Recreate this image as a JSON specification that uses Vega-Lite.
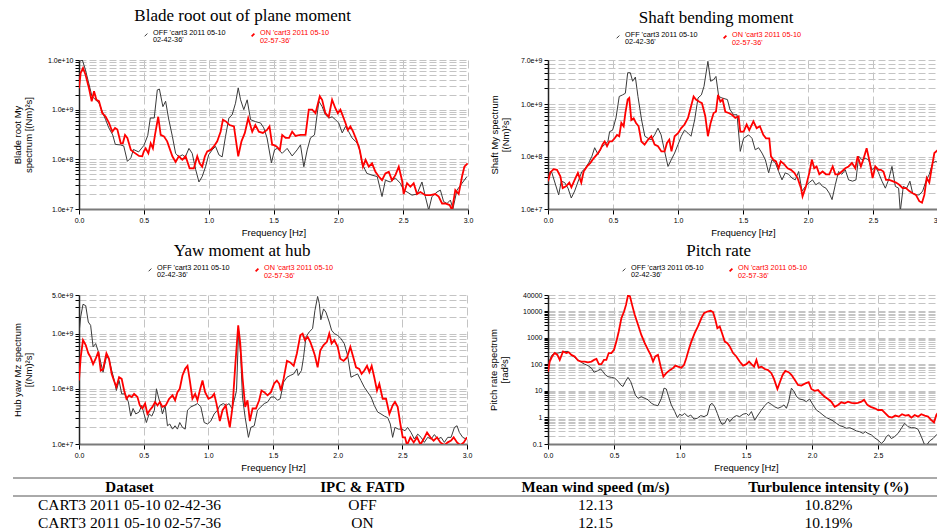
{
"$schema": "https://vega.github.io/schema/vega-lite/v6.json",
"background": "white",
"padding": {"left": 12, "top": 7, "right": 0, "bottom": 0},
"spacing": 5,
"columns": 1,
"align": "none",
"resolve": {"scale": {"color": "independent", "strokeWidth": "independent"}, "legend": {"color": "independent", "strokeWidth": "independent"}},
"config": {
  "view": {"stroke": null},
  "font": "Liberation Sans",
  "title": {"font": "Liberation Serif", "fontSize": 17, "fontWeight": "normal", "color": "#000000", "anchor": "middle", "frame": "bounds", "offset": 6},
  "axis": {"labelFont": "Liberation Sans", "labelFontSize": 7, "labelColor": "#000000", "titleFont": "Liberation Sans", "titleFontSize": 9.5, "titleFontWeight": "normal", "titleColor": "#000000", "tickColor": "#000000", "gridColor": "#c4c4c4", "labelFlush": false, "labelOverlap": false},
  "axisX": {"gridDash": [8, 4], "domainColor": "#7a7a7a", "domainWidth": 2, "tickSize": 5, "labelPadding": 2, "titlePadding": 4},
  "axisY": {"gridDash": [7, 3], "domainColor": "#222222", "domainWidth": 1.5, "tickSize": 4, "labelPadding": 2, "titleLineHeight": 11},
  "legend": {"orient": "none", "direction": "horizontal", "columns": 2, "columnPadding": 22, "title": null, "symbolType": "M-0.5,0.5L0.5,-0.5", "symbolSize": 30, "symbolStrokeWidth": 1, "labelFont": "Liberation Sans", "labelFontSize": 7.3, "labelBaseline": "alphabetic", "labelOffset": 3, "labelColor": {"expr": "datum.value === 'ON' ? '#ff0000' : '#000000'"}},
  "line": {"clip": true}
},
"concat": [
 {"hconcat": [
  {
   "width": 389, "height": 149,
   "title": {"text": "Blade root out of plane moment"},
   "data": {"values": [
{"s":"OFF","f":0,"v":9.3e9},{"s":"OFF","f":0.026,"v":1.0e10},{"s":"OFF","f":0.05,"v":6.3e9},{"s":"OFF","f":0.1,"v":1.86e9},{"s":"OFF","f":0.155,"v":1.35e9},{"s":"OFF","f":0.18,"v":9.1e8},{"s":"OFF","f":0.205,"v":6.3e8},{"s":"OFF","f":0.23,"v":4.3e8},{"s":"OFF","f":0.26,"v":3.1e8},{"s":"OFF","f":0.28,"v":2.0e8},{"s":"OFF","f":0.32,"v":1.95e8},{"s":"OFF","f":0.345,"v":1.86e8},{"s":"OFF","f":0.373,"v":9.1e7},{"s":"OFF","f":0.4,"v":1.07e8},{"s":"OFF","f":0.42,"v":1.58e8},{"s":"OFF","f":0.46,"v":1.41e8},{"s":"OFF","f":0.5,"v":1.9e8},{"s":"OFF","f":0.53,"v":3.0e8},{"s":"OFF","f":0.55,"v":6.8e8},{"s":"OFF","f":0.58,"v":6.8e8},{"s":"OFF","f":0.604,"v":2.5e9},{"s":"OFF","f":0.62,"v":2.6e9},{"s":"OFF","f":0.647,"v":1.15e9},{"s":"OFF","f":0.668,"v":1.48e9},{"s":"OFF","f":0.69,"v":6.8e8},{"s":"OFF","f":0.72,"v":2.9e8},{"s":"OFF","f":0.745,"v":1.32e8},{"s":"OFF","f":0.77,"v":1.12e8},{"s":"OFF","f":0.797,"v":1.23e8},{"s":"OFF","f":0.82,"v":1.12e8},{"s":"OFF","f":0.848,"v":1.66e8},{"s":"OFF","f":0.873,"v":1.32e8},{"s":"OFF","f":0.9,"v":6.2e7},{"s":"OFF","f":0.925,"v":3.5e7},{"s":"OFF","f":0.95,"v":4.5e7},{"s":"OFF","f":0.976,"v":7.1e7},{"s":"OFF","f":1.0,"v":1.23e8},{"s":"OFF","f":1.027,"v":1.55e8},{"s":"OFF","f":1.053,"v":1.82e8},{"s":"OFF","f":1.079,"v":1.23e8},{"s":"OFF","f":1.104,"v":1.12e8},{"s":"OFF","f":1.13,"v":2.9e8},{"s":"OFF","f":1.156,"v":6.8e8},{"s":"OFF","f":1.181,"v":7.9e8},{"s":"OFF","f":1.207,"v":1.35e9},{"s":"OFF","f":1.228,"v":2.75e9},{"s":"OFF","f":1.246,"v":1.58e9},{"s":"OFF","f":1.271,"v":1.0e9},{"s":"OFF","f":1.297,"v":1.58e9},{"s":"OFF","f":1.323,"v":6.3e8},{"s":"OFF","f":1.36,"v":5.75e8},{"s":"OFF","f":1.4,"v":5.4e8},{"s":"OFF","f":1.425,"v":4.3e8},{"s":"OFF","f":1.45,"v":2.7e8},{"s":"OFF","f":1.484,"v":8.5e7},{"s":"OFF","f":1.508,"v":1.55e8},{"s":"OFF","f":1.528,"v":1.66e8},{"s":"OFF","f":1.567,"v":1.32e8},{"s":"OFF","f":1.605,"v":1.66e8},{"s":"OFF","f":1.644,"v":1.17e8},{"s":"OFF","f":1.682,"v":1.55e8},{"s":"OFF","f":1.708,"v":1.95e8},{"s":"OFF","f":1.734,"v":7.1e7},{"s":"OFF","f":1.76,"v":1.55e8},{"s":"OFF","f":1.785,"v":2.7e8},{"s":"OFF","f":1.816,"v":3.1e8},{"s":"OFF","f":1.85,"v":1.48e9},{"s":"OFF","f":1.875,"v":1.15e9},{"s":"OFF","f":1.9,"v":7.9e8},{"s":"OFF","f":1.926,"v":6.8e8},{"s":"OFF","f":1.952,"v":7.2e8},{"s":"OFF","f":1.977,"v":6.3e8},{"s":"OFF","f":2.003,"v":5.4e8},{"s":"OFF","f":2.03,"v":3.4e8},{"s":"OFF","f":2.055,"v":4.6e8},{"s":"OFF","f":2.08,"v":3.6e8},{"s":"OFF","f":2.106,"v":2.7e8},{"s":"OFF","f":2.132,"v":2.3e8},{"s":"OFF","f":2.157,"v":1.95e8},{"s":"OFF","f":2.183,"v":8.3e7},{"s":"OFF","f":2.22,"v":5.2e7},{"s":"OFF","f":2.26,"v":4.8e7},{"s":"OFF","f":2.3,"v":4.5e7},{"s":"OFF","f":2.337,"v":1.78e7},{"s":"OFF","f":2.363,"v":3.8e7},{"s":"OFF","f":2.4,"v":3.5e7},{"s":"OFF","f":2.44,"v":4.2e7},{"s":"OFF","f":2.478,"v":3.3e7},{"s":"OFF","f":2.504,"v":2.4e7},{"s":"OFF","f":2.53,"v":2.2e7},{"s":"OFF","f":2.568,"v":1.9e7},{"s":"OFF","f":2.607,"v":2.0e7},{"s":"OFF","f":2.645,"v":3.5e7},{"s":"OFF","f":2.671,"v":1.78e7},{"s":"OFF","f":2.697,"v":9.5e6},{"s":"OFF","f":2.722,"v":1.78e7},{"s":"OFF","f":2.761,"v":2.2e7},{"s":"OFF","f":2.787,"v":2.4e7},{"s":"OFF","f":2.812,"v":1.41e7},{"s":"OFF","f":2.838,"v":1.29e7},{"s":"OFF","f":2.864,"v":1.51e7},{"s":"OFF","f":2.884,"v":1.02e7},{"s":"OFF","f":2.915,"v":2.4e7},{"s":"OFF","f":2.954,"v":3.3e7},{"s":"OFF","f":2.992,"v":4.5e7},
{"s":"ON","f":0,"v":2.7e9},{"s":"ON","f":0.013,"v":5.5e9},{"s":"ON","f":0.031,"v":6.9e9},{"s":"ON","f":0.051,"v":5.0e9},{"s":"ON","f":0.077,"v":2.7e9},{"s":"ON","f":0.098,"v":1.48e9},{"s":"ON","f":0.116,"v":2.35e9},{"s":"ON","f":0.134,"v":1.58e9},{"s":"ON","f":0.154,"v":1.48e9},{"s":"ON","f":0.18,"v":8.5e8},{"s":"ON","f":0.206,"v":7.2e8},{"s":"ON","f":0.231,"v":5.4e8},{"s":"ON","f":0.257,"v":3.6e8},{"s":"ON","f":0.278,"v":4.3e8},{"s":"ON","f":0.296,"v":4.0e8},{"s":"ON","f":0.322,"v":2.1e8},{"s":"ON","f":0.338,"v":2.1e8},{"s":"ON","f":0.355,"v":3.1e8},{"s":"ON","f":0.373,"v":2.7e8},{"s":"ON","f":0.4,"v":1.55e8},{"s":"ON","f":0.424,"v":1.38e8},{"s":"ON","f":0.463,"v":1.17e8},{"s":"ON","f":0.488,"v":1.15e8},{"s":"ON","f":0.5,"v":1.45e8},{"s":"ON","f":0.514,"v":1.66e8},{"s":"ON","f":0.535,"v":1.32e8},{"s":"ON","f":0.553,"v":2.1e8},{"s":"ON","f":0.57,"v":1.66e8},{"s":"ON","f":0.586,"v":3.1e8},{"s":"ON","f":0.611,"v":7.2e8},{"s":"ON","f":0.63,"v":3.1e8},{"s":"ON","f":0.655,"v":2.9e8},{"s":"ON","f":0.68,"v":2.3e8},{"s":"ON","f":0.72,"v":1.15e8},{"s":"ON","f":0.745,"v":8.9e7},{"s":"ON","f":0.77,"v":1.15e8},{"s":"ON","f":0.797,"v":9.8e7},{"s":"ON","f":0.822,"v":1.15e8},{"s":"ON","f":0.853,"v":6.6e7},{"s":"ON","f":0.886,"v":6.6e7},{"s":"ON","f":0.912,"v":1.15e8},{"s":"ON","f":0.93,"v":8.3e7},{"s":"ON","f":0.95,"v":7.1e7},{"s":"ON","f":0.971,"v":1.15e8},{"s":"ON","f":0.989,"v":1.45e8},{"s":"ON","f":1.015,"v":1.55e8},{"s":"ON","f":1.04,"v":1.82e8},{"s":"ON","f":1.066,"v":2.3e8},{"s":"ON","f":1.092,"v":3.6e8},{"s":"ON","f":1.11,"v":6.3e8},{"s":"ON","f":1.135,"v":5.75e8},{"s":"ON","f":1.161,"v":4.9e8},{"s":"ON","f":1.195,"v":4.6e8},{"s":"ON","f":1.228,"v":1.15e8},{"s":"ON","f":1.253,"v":2.3e8},{"s":"ON","f":1.279,"v":3.4e8},{"s":"ON","f":1.305,"v":6.8e8},{"s":"ON","f":1.336,"v":3.6e8},{"s":"ON","f":1.36,"v":4.9e8},{"s":"ON","f":1.387,"v":3.6e8},{"s":"ON","f":1.418,"v":3.4e8},{"s":"ON","f":1.45,"v":3.9e8},{"s":"ON","f":1.469,"v":4.6e8},{"s":"ON","f":1.49,"v":1.95e8},{"s":"ON","f":1.5,"v":1.95e8},{"s":"ON","f":1.523,"v":1.82e8},{"s":"ON","f":1.549,"v":1.55e8},{"s":"ON","f":1.567,"v":3.1e8},{"s":"ON","f":1.593,"v":2.7e8},{"s":"ON","f":1.62,"v":2.7e8},{"s":"ON","f":1.644,"v":3.6e8},{"s":"ON","f":1.67,"v":2.95e8},{"s":"ON","f":1.708,"v":3.1e8},{"s":"ON","f":1.747,"v":3.1e8},{"s":"ON","f":1.772,"v":1.0e9},{"s":"ON","f":1.798,"v":1.0e9},{"s":"ON","f":1.824,"v":8.5e8},{"s":"ON","f":1.857,"v":1.86e9},{"s":"ON","f":1.875,"v":1.58e9},{"s":"ON","f":1.9,"v":8.5e8},{"s":"ON","f":1.926,"v":7.2e8},{"s":"ON","f":1.952,"v":1.58e9},{"s":"ON","f":1.977,"v":1.07e9},{"s":"ON","f":1.996,"v":8.5e8},{"s":"ON","f":2.016,"v":1.0e9},{"s":"ON","f":2.037,"v":7.2e8},{"s":"ON","f":2.055,"v":5.4e8},{"s":"ON","f":2.073,"v":3.9e8},{"s":"ON","f":2.093,"v":4.6e8},{"s":"ON","f":2.114,"v":3.6e8},{"s":"ON","f":2.14,"v":2.45e8},{"s":"ON","f":2.165,"v":1.55e8},{"s":"ON","f":2.19,"v":7.1e7},{"s":"ON","f":2.21,"v":9.8e7},{"s":"ON","f":2.235,"v":7.1e7},{"s":"ON","f":2.26,"v":8.3e7},{"s":"ON","f":2.286,"v":5.6e7},{"s":"ON","f":2.312,"v":4.5e7},{"s":"ON","f":2.337,"v":3.8e7},{"s":"ON","f":2.363,"v":5.2e7},{"s":"ON","f":2.389,"v":5.6e7},{"s":"ON","f":2.414,"v":3.8e7},{"s":"ON","f":2.44,"v":4.8e7},{"s":"ON","f":2.466,"v":7.1e7},{"s":"ON","f":2.491,"v":3.8e7},{"s":"ON","f":2.504,"v":2.0e7},{"s":"ON","f":2.53,"v":3.3e7},{"s":"ON","f":2.556,"v":2.8e7},{"s":"ON","f":2.581,"v":3.3e7},{"s":"ON","f":2.607,"v":2.0e7},{"s":"ON","f":2.633,"v":2.2e7},{"s":"ON","f":2.671,"v":1.9e7},{"s":"ON","f":2.71,"v":1.9e7},{"s":"ON","f":2.748,"v":2.0e7},{"s":"ON","f":2.774,"v":1.78e7},{"s":"ON","f":2.8,"v":1.29e7},{"s":"ON","f":2.825,"v":1.29e7},{"s":"ON","f":2.859,"v":1.2e7},{"s":"ON","f":2.877,"v":9.5e6},{"s":"ON","f":2.902,"v":2.4e7},{"s":"ON","f":2.928,"v":2.0e7},{"s":"ON","f":2.954,"v":4.5e7},{"s":"ON","f":2.972,"v":7.1e7},{"s":"ON","f":2.997,"v":8.3e7}
   ]},
   "mark": {"type": "line", "clip": true},
   "encoding": {
     "x": {"field": "f", "type": "quantitative", "scale": {"domain": [0, 3], "nice": false, "zero": false}, "axis": {"title": "Frequency [Hz]", "values": [0, 0.5, 1, 1.5, 2, 2.5, 3], "format": ".1f", "grid": true}},
     "y": {"field": "v", "type": "quantitative", "scale": {"type": "log", "domain": [1e7, 1e10], "nice": false}, "axis": {"title": ["Blade root My", "spectrum [(Nm)²s]"], "titlePadding": 14, "grid": true, "values": [1e7,2e7,3e7,4e7,5e7,6e7,7e7,8e7,9e7,1e8,2e8,3e8,4e8,5e8,6e8,7e8,8e8,9e8,1e9,2e9,3e9,4e9,5e9,6e9,7e9,8e9,9e9,1e10], "labelExpr": "indexof([1e7,1e8,1e9,1e10], datum.value) >= 0 ? format(datum.value, '.1e') : ''"}},
     "color": {"field": "s", "type": "nominal", "scale": {"domain": ["OFF", "ON"], "range": ["#3a3a3a", "#ff0000"]}, "legend": {"legendX": 63, "legendY": -29, "labelExpr": "datum.value == 'OFF' ? [\"OFF 'cart3 2011 05-10\", \"02-42-36'\"] : [\"ON 'cart3 2011 05-10\", \"02-57-36'\"]", "encode": {"labels": {"update": {"lineHeight": {"value": 7.5}}}}}},
     "strokeWidth": {"field": "s", "type": "nominal", "scale": {"domain": ["OFF", "ON"], "range": [1, 1.8]}, "legend": null}
   }
  },
  {
   "width": 390, "height": 149,
   "title": {"text": "Shaft bending moment"},
   "data": {"values": [
{"s":"OFF","f":0,"v":3.2e7},{"s":"OFF","f":0.018,"v":5.2e7},{"s":"OFF","f":0.03,"v":4.9e7},{"s":"OFF","f":0.082,"v":1.86e7},{"s":"OFF","f":0.102,"v":3.4e7},{"s":"OFF","f":0.128,"v":3.2e7},{"s":"OFF","f":0.154,"v":2.5e7},{"s":"OFF","f":0.179,"v":1.62e7},{"s":"OFF","f":0.205,"v":2.2e7},{"s":"OFF","f":0.236,"v":3.6e7},{"s":"OFF","f":0.261,"v":5.2e7},{"s":"OFF","f":0.287,"v":6.0e7},{"s":"OFF","f":0.313,"v":7.6e7},{"s":"OFF","f":0.338,"v":1.02e8},{"s":"OFF","f":0.359,"v":1.48e8},{"s":"OFF","f":0.385,"v":1.1e8},{"s":"OFF","f":0.41,"v":1.48e8},{"s":"OFF","f":0.436,"v":1.7e8},{"s":"OFF","f":0.461,"v":1.95e8},{"s":"OFF","f":0.474,"v":3.0e8},{"s":"OFF","f":0.497,"v":3.2e8},{"s":"OFF","f":0.523,"v":5.5e8},{"s":"OFF","f":0.548,"v":1.41e9},{"s":"OFF","f":0.574,"v":1.51e9},{"s":"OFF","f":0.595,"v":1.62e9},{"s":"OFF","f":0.613,"v":4.0e9},{"s":"OFF","f":0.633,"v":4.0e9},{"s":"OFF","f":0.651,"v":2.75e9},{"s":"OFF","f":0.672,"v":3.3e9},{"s":"OFF","f":0.692,"v":1.41e9},{"s":"OFF","f":0.72,"v":5.0e8},{"s":"OFF","f":0.745,"v":2.45e8},{"s":"OFF","f":0.77,"v":2.24e8},{"s":"OFF","f":0.795,"v":2.1e8},{"s":"OFF","f":0.82,"v":2.6e8},{"s":"OFF","f":0.846,"v":3.5e8},{"s":"OFF","f":0.87,"v":2.6e8},{"s":"OFF","f":0.897,"v":1.26e8},{"s":"OFF","f":0.923,"v":6.5e7},{"s":"OFF","f":0.948,"v":8.7e7},{"s":"OFF","f":0.974,"v":1.17e8},{"s":"OFF","f":1.0,"v":1.7e8},{"s":"OFF","f":1.025,"v":2.45e8},{"s":"OFF","f":1.05,"v":3.2e8},{"s":"OFF","f":1.077,"v":2.8e8},{"s":"OFF","f":1.1,"v":2.45e8},{"s":"OFF","f":1.128,"v":5.0e8},{"s":"OFF","f":1.154,"v":1.32e9},{"s":"OFF","f":1.18,"v":1.51e9},{"s":"OFF","f":1.2,"v":2.2e9},{"s":"OFF","f":1.23,"v":6.6e9},{"s":"OFF","f":1.251,"v":2.75e9},{"s":"OFF","f":1.274,"v":2.95e9},{"s":"OFF","f":1.292,"v":3.4e9},{"s":"OFF","f":1.313,"v":1.41e9},{"s":"OFF","f":1.338,"v":1.32e9},{"s":"OFF","f":1.38,"v":1.23e9},{"s":"OFF","f":1.4,"v":7.9e8},{"s":"OFF","f":1.428,"v":6.3e8},{"s":"OFF","f":1.454,"v":6.3e8},{"s":"OFF","f":1.479,"v":1.26e8},{"s":"OFF","f":1.505,"v":2.24e8},{"s":"OFF","f":1.543,"v":2.6e8},{"s":"OFF","f":1.569,"v":2.24e8},{"s":"OFF","f":1.594,"v":1.35e8},{"s":"OFF","f":1.62,"v":1.48e8},{"s":"OFF","f":1.646,"v":1.17e8},{"s":"OFF","f":1.672,"v":8.7e7},{"s":"OFF","f":1.697,"v":4.9e7},{"s":"OFF","f":1.723,"v":8.7e7},{"s":"OFF","f":1.749,"v":7.6e7},{"s":"OFF","f":1.774,"v":5.2e7},{"s":"OFF","f":1.8,"v":3.6e7},{"s":"OFF","f":1.825,"v":4.9e7},{"s":"OFF","f":1.851,"v":4.6e7},{"s":"OFF","f":1.877,"v":3.9e7},{"s":"OFF","f":1.902,"v":3.6e7},{"s":"OFF","f":1.928,"v":5.2e7},{"s":"OFF","f":1.954,"v":2.2e7},{"s":"OFF","f":1.98,"v":2.7e7},{"s":"OFF","f":2.01,"v":3.2e7},{"s":"OFF","f":2.035,"v":3.6e7},{"s":"OFF","f":2.06,"v":2.9e7},{"s":"OFF","f":2.087,"v":3.2e7},{"s":"OFF","f":2.112,"v":2.7e7},{"s":"OFF","f":2.138,"v":2.5e7},{"s":"OFF","f":2.164,"v":2.0e7},{"s":"OFF","f":2.185,"v":1.51e7},{"s":"OFF","f":2.21,"v":2.9e7},{"s":"OFF","f":2.235,"v":5.2e7},{"s":"OFF","f":2.26,"v":4.6e7},{"s":"OFF","f":2.287,"v":5.6e7},{"s":"OFF","f":2.312,"v":3.6e7},{"s":"OFF","f":2.343,"v":3.4e7},{"s":"OFF","f":2.369,"v":3.6e7},{"s":"OFF","f":2.39,"v":1.02e8},{"s":"OFF","f":2.415,"v":8.7e7},{"s":"OFF","f":2.44,"v":9.3e7},{"s":"OFF","f":2.466,"v":8.7e7},{"s":"OFF","f":2.492,"v":5.6e7},{"s":"OFF","f":2.518,"v":6.5e7},{"s":"OFF","f":2.543,"v":4.9e7},{"s":"OFF","f":2.569,"v":3.4e7},{"s":"OFF","f":2.595,"v":2.5e7},{"s":"OFF","f":2.62,"v":3.6e7},{"s":"OFF","f":2.646,"v":6.5e7},{"s":"OFF","f":2.672,"v":2.7e7},{"s":"OFF","f":2.697,"v":2.5e7},{"s":"OFF","f":2.71,"v":9.0e6},{"s":"OFF","f":2.733,"v":2.7e7},{"s":"OFF","f":2.759,"v":2.5e7},{"s":"OFF","f":2.784,"v":3.4e7},{"s":"OFF","f":2.805,"v":2.0e7},{"s":"OFF","f":2.83,"v":1.86e7},{"s":"OFF","f":2.856,"v":1.86e7},{"s":"OFF","f":2.882,"v":2.2e7},{"s":"OFF","f":2.907,"v":3.4e7},{"s":"OFF","f":2.933,"v":4.6e7},{"s":"OFF","f":2.959,"v":7.6e7},{"s":"OFF","f":2.984,"v":8.1e7},{"s":"OFF","f":3.0,"v":7.6e7},
{"s":"ON","f":0,"v":3.4e7},{"s":"ON","f":0.018,"v":5.0e7},{"s":"ON","f":0.043,"v":5.75e7},{"s":"ON","f":0.069,"v":5.6e7},{"s":"ON","f":0.095,"v":4.2e7},{"s":"ON","f":0.113,"v":2.5e7},{"s":"ON","f":0.138,"v":2.7e7},{"s":"ON","f":0.164,"v":3.2e7},{"s":"ON","f":0.18,"v":2.6e7},{"s":"ON","f":0.205,"v":3.6e7},{"s":"ON","f":0.23,"v":4.9e7},{"s":"ON","f":0.256,"v":3.2e7},{"s":"ON","f":0.274,"v":5.2e7},{"s":"ON","f":0.3,"v":6.5e7},{"s":"ON","f":0.326,"v":7.6e7},{"s":"ON","f":0.351,"v":9.3e7},{"s":"ON","f":0.377,"v":1.1e8},{"s":"ON","f":0.402,"v":1.35e8},{"s":"ON","f":0.42,"v":1.7e8},{"s":"ON","f":0.436,"v":1.95e8},{"s":"ON","f":0.454,"v":1.58e8},{"s":"ON","f":0.472,"v":1.95e8},{"s":"ON","f":0.492,"v":1.95e8},{"s":"ON","f":0.513,"v":2.24e8},{"s":"ON","f":0.531,"v":2.6e8},{"s":"ON","f":0.548,"v":2.45e8},{"s":"ON","f":0.564,"v":4.4e8},{"s":"ON","f":0.582,"v":3.8e8},{"s":"ON","f":0.595,"v":6.8e8},{"s":"ON","f":0.613,"v":1.23e9},{"s":"ON","f":0.625,"v":1.32e9},{"s":"ON","f":0.641,"v":5.0e8},{"s":"ON","f":0.659,"v":5.4e8},{"s":"ON","f":0.677,"v":4.4e8},{"s":"ON","f":0.697,"v":3.8e8},{"s":"ON","f":0.718,"v":1.95e8},{"s":"ON","f":0.743,"v":1.7e8},{"s":"ON","f":0.769,"v":2.1e8},{"s":"ON","f":0.795,"v":2.45e8},{"s":"ON","f":0.82,"v":1.7e8},{"s":"ON","f":0.846,"v":1.58e8},{"s":"ON","f":0.872,"v":1.26e8},{"s":"ON","f":0.897,"v":1.26e8},{"s":"ON","f":0.915,"v":1.82e8},{"s":"ON","f":0.933,"v":2.1e8},{"s":"ON","f":0.95,"v":1.26e8},{"s":"ON","f":0.974,"v":2.45e8},{"s":"ON","f":1.0,"v":2.8e8},{"s":"ON","f":1.025,"v":3.5e8},{"s":"ON","f":1.05,"v":4.1e8},{"s":"ON","f":1.077,"v":5.5e8},{"s":"ON","f":1.1,"v":9.1e8},{"s":"ON","f":1.12,"v":1.41e9},{"s":"ON","f":1.138,"v":1.23e9},{"s":"ON","f":1.164,"v":1.12e9},{"s":"ON","f":1.184,"v":1.05e9},{"s":"ON","f":1.21,"v":5.9e8},{"s":"ON","f":1.23,"v":2.45e8},{"s":"ON","f":1.251,"v":4.4e8},{"s":"ON","f":1.274,"v":6.8e8},{"s":"ON","f":1.292,"v":7.2e8},{"s":"ON","f":1.308,"v":1.51e9},{"s":"ON","f":1.326,"v":1.12e9},{"s":"ON","f":1.343,"v":1.23e9},{"s":"ON","f":1.364,"v":7.2e8},{"s":"ON","f":1.39,"v":6.8e8},{"s":"ON","f":1.415,"v":6.3e8},{"s":"ON","f":1.441,"v":5.5e8},{"s":"ON","f":1.466,"v":5.9e8},{"s":"ON","f":1.479,"v":3.0e8},{"s":"ON","f":1.505,"v":3.0e8},{"s":"ON","f":1.528,"v":4.1e8},{"s":"ON","f":1.548,"v":3.2e8},{"s":"ON","f":1.58,"v":4.7e8},{"s":"ON","f":1.605,"v":3.5e8},{"s":"ON","f":1.63,"v":3.8e8},{"s":"ON","f":1.656,"v":2.6e8},{"s":"ON","f":1.677,"v":2.24e8},{"s":"ON","f":1.702,"v":2.24e8},{"s":"ON","f":1.715,"v":1.02e8},{"s":"ON","f":1.733,"v":8.7e7},{"s":"ON","f":1.754,"v":8.1e7},{"s":"ON","f":1.774,"v":6.0e7},{"s":"ON","f":1.79,"v":8.1e7},{"s":"ON","f":1.818,"v":7.1e7},{"s":"ON","f":1.843,"v":6.0e7},{"s":"ON","f":1.869,"v":5.6e7},{"s":"ON","f":1.895,"v":4.9e7},{"s":"ON","f":1.92,"v":3.9e7},{"s":"ON","f":1.946,"v":2.5e7},{"s":"ON","f":1.958,"v":1.74e7},{"s":"ON","f":1.984,"v":2.7e7},{"s":"ON","f":2.01,"v":4.9e7},{"s":"ON","f":2.03,"v":8.7e7},{"s":"ON","f":2.048,"v":6.0e7},{"s":"ON","f":2.066,"v":6.5e7},{"s":"ON","f":2.087,"v":4.6e7},{"s":"ON","f":2.112,"v":5.2e7},{"s":"ON","f":2.138,"v":4.6e7},{"s":"ON","f":2.164,"v":4.6e7},{"s":"ON","f":2.19,"v":6.5e7},{"s":"ON","f":2.21,"v":4.6e7},{"s":"ON","f":2.235,"v":4.6e7},{"s":"ON","f":2.26,"v":5.2e7},{"s":"ON","f":2.287,"v":6.0e7},{"s":"ON","f":2.312,"v":6.5e7},{"s":"ON","f":2.338,"v":7.6e7},{"s":"ON","f":2.364,"v":6.0e7},{"s":"ON","f":2.382,"v":1.02e8},{"s":"ON","f":2.407,"v":6.5e7},{"s":"ON","f":2.425,"v":8.7e7},{"s":"ON","f":2.451,"v":1.45e8},{"s":"ON","f":2.476,"v":7.6e7},{"s":"ON","f":2.497,"v":3.9e7},{"s":"ON","f":2.518,"v":6.5e7},{"s":"ON","f":2.543,"v":5.6e7},{"s":"ON","f":2.56,"v":5.6e7},{"s":"ON","f":2.58,"v":5.2e7},{"s":"ON","f":2.6,"v":3.6e7},{"s":"ON","f":2.625,"v":3.6e7},{"s":"ON","f":2.65,"v":3.4e7},{"s":"ON","f":2.677,"v":3.2e7},{"s":"ON","f":2.702,"v":2.9e7},{"s":"ON","f":2.728,"v":2.5e7},{"s":"ON","f":2.754,"v":2.5e7},{"s":"ON","f":2.779,"v":2.2e7},{"s":"ON","f":2.805,"v":2.0e7},{"s":"ON","f":2.83,"v":1.86e7},{"s":"ON","f":2.856,"v":1.41e7},{"s":"ON","f":2.877,"v":1.32e7},{"s":"ON","f":2.895,"v":1.86e7},{"s":"ON","f":2.913,"v":3.9e7},{"s":"ON","f":2.933,"v":3.2e7},{"s":"ON","f":2.954,"v":6.5e7},{"s":"ON","f":2.972,"v":1.17e8},{"s":"ON","f":3.0,"v":1.35e8}
   ]},
   "mark": {"type": "line", "clip": true},
   "encoding": {
     "x": {"field": "f", "type": "quantitative", "scale": {"domain": [0, 3], "nice": false, "zero": false}, "axis": {"title": "Frequency [Hz]", "values": [0, 0.5, 1, 1.5, 2, 2.5, 3], "format": ".1f", "grid": true}},
     "y": {"field": "v", "type": "quantitative", "scale": {"type": "log", "domain": [1e7, 7e9], "nice": false}, "axis": {"title": ["Shaft My spectrum", "[(Nm)²s]"], "titlePadding": 10, "grid": true, "values": [1e7,2e7,3e7,4e7,5e7,6e7,7e7,8e7,9e7,1e8,2e8,3e8,4e8,5e8,6e8,7e8,8e8,9e8,1e9,2e9,3e9,4e9,5e9,6e9,7e9], "labelExpr": "indexof([1e7,1e8,1e9,7e9], datum.value) >= 0 ? format(datum.value, '.1e') : ''"}},
     "color": {"field": "s", "type": "nominal", "scale": {"domain": ["OFF", "ON"], "range": ["#3a3a3a", "#ff0000"]}, "legend": {"legendX": 66, "legendY": -27, "labelExpr": "datum.value == 'OFF' ? [\"OFF 'cart3 2011 05-10\", \"02-42-36'\"] : [\"ON 'cart3 2011 05-10\", \"02-57-36'\"]", "encode": {"labels": {"update": {"lineHeight": {"value": 7.5}}}}}},
     "strokeWidth": {"field": "s", "type": "nominal", "scale": {"domain": ["OFF", "ON"], "range": [1, 1.8]}, "legend": null}
   }
  }
 ], "spacing": 16, "resolve": {"scale": {"color": "independent", "strokeWidth": "independent"}, "legend": {"color": "independent", "strokeWidth": "independent"}}},
 {"hconcat": [
  {
   "width": 388, "height": 149,
   "title": {"text": "Yaw moment at hub"},
   "data": {"values": [
{"s":"OFF","f":0,"v":1.0e9},{"s":"OFF","f":0.013,"v":2.0e9},{"s":"OFF","f":0.031,"v":3.4e9},{"s":"OFF","f":0.052,"v":3.2e9},{"s":"OFF","f":0.072,"v":1.62e9},{"s":"OFF","f":0.09,"v":1.41e9},{"s":"OFF","f":0.109,"v":5.75e8},{"s":"OFF","f":0.129,"v":6.6e8},{"s":"OFF","f":0.15,"v":4.7e8},{"s":"OFF","f":0.168,"v":3.0e8},{"s":"OFF","f":0.186,"v":2.0e8},{"s":"OFF","f":0.212,"v":3.8e8},{"s":"OFF","f":0.232,"v":3.5e8},{"s":"OFF","f":0.253,"v":2.14e8},{"s":"OFF","f":0.27,"v":1.51e8},{"s":"OFF","f":0.289,"v":9.3e7},{"s":"OFF","f":0.31,"v":1.41e8},{"s":"OFF","f":0.33,"v":8.1e7},{"s":"OFF","f":0.356,"v":8.1e7},{"s":"OFF","f":0.382,"v":5.75e7},{"s":"OFF","f":0.4,"v":3.2e7},{"s":"OFF","f":0.418,"v":4.4e7},{"s":"OFF","f":0.439,"v":3.5e7},{"s":"OFF","f":0.465,"v":3.8e7},{"s":"OFF","f":0.485,"v":5.0e7},{"s":"OFF","f":0.503,"v":3.5e7},{"s":"OFF","f":0.521,"v":2.45e7},{"s":"OFF","f":0.542,"v":3.5e7},{"s":"OFF","f":0.563,"v":3.2e7},{"s":"OFF","f":0.583,"v":4.1e7},{"s":"OFF","f":0.599,"v":1.0e8},{"s":"OFF","f":0.614,"v":7.1e7},{"s":"OFF","f":0.632,"v":5.0e7},{"s":"OFF","f":0.645,"v":3.5e7},{"s":"OFF","f":0.666,"v":5.0e7},{"s":"OFF","f":0.684,"v":2.14e7},{"s":"OFF","f":0.702,"v":2.3e7},{"s":"OFF","f":0.723,"v":1.86e7},{"s":"OFF","f":0.743,"v":2.14e7},{"s":"OFF","f":0.761,"v":1.86e7},{"s":"OFF","f":0.779,"v":2.45e7},{"s":"OFF","f":0.8,"v":2.0e7},{"s":"OFF","f":0.821,"v":1.86e7},{"s":"OFF","f":0.839,"v":4.1e7},{"s":"OFF","f":0.865,"v":4.7e7},{"s":"OFF","f":0.89,"v":5.0e7},{"s":"OFF","f":0.916,"v":5.4e7},{"s":"OFF","f":0.942,"v":4.7e7},{"s":"OFF","f":0.968,"v":2.45e7},{"s":"OFF","f":0.994,"v":2.3e7},{"s":"OFF","f":1.019,"v":2.6e7},{"s":"OFF","f":1.045,"v":3.5e7},{"s":"OFF","f":1.071,"v":4.1e7},{"s":"OFF","f":1.089,"v":5.0e7},{"s":"OFF","f":1.115,"v":5.4e7},{"s":"OFF","f":1.14,"v":5.0e7},{"s":"OFF","f":1.161,"v":5.4e7},{"s":"OFF","f":1.182,"v":4.4e7},{"s":"OFF","f":1.2,"v":6.2e7},{"s":"OFF","f":1.218,"v":9.3e7},{"s":"OFF","f":1.234,"v":1.12e9},{"s":"OFF","f":1.25,"v":4.0e8},{"s":"OFF","f":1.264,"v":7.1e7},{"s":"OFF","f":1.285,"v":3.0e7},{"s":"OFF","f":1.31,"v":1.32e7},{"s":"OFF","f":1.329,"v":2.0e7},{"s":"OFF","f":1.355,"v":2.14e7},{"s":"OFF","f":1.38,"v":4.1e7},{"s":"OFF","f":1.406,"v":4.7e7},{"s":"OFF","f":1.432,"v":5.4e7},{"s":"OFF","f":1.458,"v":5.75e7},{"s":"OFF","f":1.484,"v":7.1e7},{"s":"OFF","f":1.51,"v":7.1e7},{"s":"OFF","f":1.535,"v":6.2e7},{"s":"OFF","f":1.556,"v":6.6e7},{"s":"OFF","f":1.582,"v":1.32e8},{"s":"OFF","f":1.608,"v":1.62e8},{"s":"OFF","f":1.633,"v":1.74e8},{"s":"OFF","f":1.66,"v":1.86e8},{"s":"OFF","f":1.685,"v":2.3e8},{"s":"OFF","f":1.695,"v":1.74e8},{"s":"OFF","f":1.72,"v":2.14e8},{"s":"OFF","f":1.736,"v":3.7e8},{"s":"OFF","f":1.755,"v":8.7e8},{"s":"OFF","f":1.78,"v":1.07e9},{"s":"OFF","f":1.806,"v":1.23e9},{"s":"OFF","f":1.824,"v":2.6e9},{"s":"OFF","f":1.845,"v":4.7e9},{"s":"OFF","f":1.858,"v":3.5e9},{"s":"OFF","f":1.87,"v":1.78e9},{"s":"OFF","f":1.891,"v":2.8e9},{"s":"OFF","f":1.909,"v":2.45e9},{"s":"OFF","f":1.935,"v":1.62e9},{"s":"OFF","f":1.953,"v":1.15e9},{"s":"OFF","f":1.974,"v":1.0e9},{"s":"OFF","f":2.0,"v":9.3e8},{"s":"OFF","f":2.025,"v":8.1e8},{"s":"OFF","f":2.051,"v":6.6e8},{"s":"OFF","f":2.077,"v":4.0e8},{"s":"OFF","f":2.103,"v":1.62e8},{"s":"OFF","f":2.129,"v":1.74e8},{"s":"OFF","f":2.154,"v":1.86e8},{"s":"OFF","f":2.18,"v":1.41e8},{"s":"OFF","f":2.206,"v":1.07e8},{"s":"OFF","f":2.232,"v":8.7e7},{"s":"OFF","f":2.258,"v":7.1e7},{"s":"OFF","f":2.283,"v":5.0e7},{"s":"OFF","f":2.309,"v":3.8e7},{"s":"OFF","f":2.335,"v":3.5e7},{"s":"OFF","f":2.361,"v":3.2e7},{"s":"OFF","f":2.387,"v":3.0e7},{"s":"OFF","f":2.407,"v":2.3e7},{"s":"OFF","f":2.425,"v":1.32e7},{"s":"OFF","f":2.443,"v":2.0e7},{"s":"OFF","f":2.469,"v":1.86e7},{"s":"OFF","f":2.495,"v":1.86e7},{"s":"OFF","f":2.521,"v":1.74e7},{"s":"OFF","f":2.541,"v":2.0e7},{"s":"OFF","f":2.567,"v":1.62e7},{"s":"OFF","f":2.593,"v":1.23e7},{"s":"OFF","f":2.619,"v":1.51e7},{"s":"OFF","f":2.645,"v":1.32e7},{"s":"OFF","f":2.67,"v":1.07e7},{"s":"OFF","f":2.696,"v":1.32e7},{"s":"OFF","f":2.722,"v":1.23e7},{"s":"OFF","f":2.748,"v":1.48e7},{"s":"OFF","f":2.774,"v":1.23e7},{"s":"OFF","f":2.8,"v":1.32e7},{"s":"OFF","f":2.825,"v":1.07e7},{"s":"OFF","f":2.851,"v":1.32e7},{"s":"OFF","f":2.877,"v":1.32e7},{"s":"OFF","f":2.903,"v":2.0e7},{"s":"OFF","f":2.923,"v":2.14e7},{"s":"OFF","f":2.941,"v":1.62e7},{"s":"OFF","f":2.967,"v":1.32e7},{"s":"OFF","f":2.993,"v":1.23e7},
{"s":"ON","f":0,"v":1.41e8},{"s":"ON","f":0.013,"v":3.7e8},{"s":"ON","f":0.031,"v":7.6e8},{"s":"ON","f":0.052,"v":6.2e8},{"s":"ON","f":0.072,"v":4.4e8},{"s":"ON","f":0.09,"v":3.7e8},{"s":"ON","f":0.109,"v":2.8e8},{"s":"ON","f":0.129,"v":3.5e8},{"s":"ON","f":0.15,"v":4.7e8},{"s":"ON","f":0.168,"v":2.14e8},{"s":"ON","f":0.186,"v":2.24e8},{"s":"ON","f":0.212,"v":4.4e8},{"s":"ON","f":0.232,"v":3.5e8},{"s":"ON","f":0.253,"v":1.86e8},{"s":"ON","f":0.27,"v":1.41e8},{"s":"ON","f":0.289,"v":1.07e8},{"s":"ON","f":0.31,"v":1.62e8},{"s":"ON","f":0.33,"v":1.51e8},{"s":"ON","f":0.349,"v":9.3e7},{"s":"ON","f":0.367,"v":6.6e7},{"s":"ON","f":0.387,"v":7.6e7},{"s":"ON","f":0.408,"v":7.1e7},{"s":"ON","f":0.426,"v":8.1e7},{"s":"ON","f":0.452,"v":7.1e7},{"s":"ON","f":0.47,"v":5.0e7},{"s":"ON","f":0.49,"v":4.4e7},{"s":"ON","f":0.511,"v":5.4e7},{"s":"ON","f":0.529,"v":3.5e7},{"s":"ON","f":0.547,"v":4.1e7},{"s":"ON","f":0.568,"v":4.7e7},{"s":"ON","f":0.588,"v":5.75e7},{"s":"ON","f":0.607,"v":5.0e7},{"s":"ON","f":0.625,"v":5.75e7},{"s":"ON","f":0.645,"v":4.7e7},{"s":"ON","f":0.671,"v":5.0e7},{"s":"ON","f":0.697,"v":6.6e7},{"s":"ON","f":0.723,"v":7.6e7},{"s":"ON","f":0.743,"v":6.2e7},{"s":"ON","f":0.761,"v":8.7e7},{"s":"ON","f":0.779,"v":1.0e8},{"s":"ON","f":0.8,"v":1.74e8},{"s":"ON","f":0.821,"v":2.3e8},{"s":"ON","f":0.839,"v":2.6e8},{"s":"ON","f":0.857,"v":1.41e8},{"s":"ON","f":0.877,"v":6.6e7},{"s":"ON","f":0.898,"v":8.1e7},{"s":"ON","f":0.916,"v":6.2e7},{"s":"ON","f":0.934,"v":9.3e7},{"s":"ON","f":0.955,"v":1.41e8},{"s":"ON","f":0.975,"v":8.7e7},{"s":"ON","f":1.001,"v":6.6e7},{"s":"ON","f":1.027,"v":7.1e7},{"s":"ON","f":1.045,"v":8.1e7},{"s":"ON","f":1.063,"v":5.4e7},{"s":"ON","f":1.089,"v":2.6e7},{"s":"ON","f":1.11,"v":4.1e7},{"s":"ON","f":1.135,"v":5.0e7},{"s":"ON","f":1.148,"v":3.3e7},{"s":"ON","f":1.166,"v":2.0e7},{"s":"ON","f":1.187,"v":4.7e7},{"s":"ON","f":1.208,"v":2.6e8},{"s":"ON","f":1.231,"v":1.41e9},{"s":"ON","f":1.247,"v":6.6e8},{"s":"ON","f":1.264,"v":1.62e8},{"s":"ON","f":1.285,"v":4.7e7},{"s":"ON","f":1.303,"v":6.2e7},{"s":"ON","f":1.321,"v":2.6e7},{"s":"ON","f":1.342,"v":4.4e7},{"s":"ON","f":1.368,"v":4.4e7},{"s":"ON","f":1.393,"v":6.2e7},{"s":"ON","f":1.411,"v":9.3e7},{"s":"ON","f":1.432,"v":8.7e7},{"s":"ON","f":1.458,"v":7.6e7},{"s":"ON","f":1.484,"v":8.7e7},{"s":"ON","f":1.51,"v":1.26e8},{"s":"ON","f":1.53,"v":1.41e8},{"s":"ON","f":1.548,"v":1.23e8},{"s":"ON","f":1.561,"v":9.3e7},{"s":"ON","f":1.582,"v":1.51e8},{"s":"ON","f":1.608,"v":3.2e8},{"s":"ON","f":1.633,"v":3.0e8},{"s":"ON","f":1.66,"v":2.6e8},{"s":"ON","f":1.685,"v":4.4e8},{"s":"ON","f":1.711,"v":9.3e8},{"s":"ON","f":1.729,"v":1.0e9},{"s":"ON","f":1.747,"v":7.6e8},{"s":"ON","f":1.768,"v":8.7e8},{"s":"ON","f":1.788,"v":7.1e8},{"s":"ON","f":1.806,"v":5.4e8},{"s":"ON","f":1.824,"v":4.0e8},{"s":"ON","f":1.845,"v":2.45e8},{"s":"ON","f":1.866,"v":5.0e8},{"s":"ON","f":1.891,"v":6.2e8},{"s":"ON","f":1.917,"v":7.1e8},{"s":"ON","f":1.935,"v":1.0e9},{"s":"ON","f":1.953,"v":6.6e8},{"s":"ON","f":1.974,"v":7.6e8},{"s":"ON","f":2.0,"v":5.75e8},{"s":"ON","f":2.02,"v":3.5e8},{"s":"ON","f":2.046,"v":3.2e8},{"s":"ON","f":2.072,"v":3.7e8},{"s":"ON","f":2.098,"v":5.75e8},{"s":"ON","f":2.124,"v":3.5e8},{"s":"ON","f":2.142,"v":2.45e8},{"s":"ON","f":2.167,"v":2.3e8},{"s":"ON","f":2.185,"v":1.86e8},{"s":"ON","f":2.206,"v":2.14e8},{"s":"ON","f":2.227,"v":2.6e8},{"s":"ON","f":2.245,"v":2.0e8},{"s":"ON","f":2.263,"v":2.6e8},{"s":"ON","f":2.283,"v":1.62e8},{"s":"ON","f":2.304,"v":9.3e7},{"s":"ON","f":2.322,"v":1.23e8},{"s":"ON","f":2.348,"v":6.6e7},{"s":"ON","f":2.374,"v":6.6e7},{"s":"ON","f":2.4,"v":3.5e7},{"s":"ON","f":2.425,"v":5.0e7},{"s":"ON","f":2.443,"v":5.75e7},{"s":"ON","f":2.464,"v":4.7e7},{"s":"ON","f":2.485,"v":2.3e7},{"s":"ON","f":2.503,"v":1.32e7},{"s":"ON","f":2.521,"v":1.32e7},{"s":"ON","f":2.536,"v":9.5e6},{"s":"ON","f":2.562,"v":1.32e7},{"s":"ON","f":2.588,"v":1.07e7},{"s":"ON","f":2.614,"v":1.32e7},{"s":"ON","f":2.64,"v":9.8e6},{"s":"ON","f":2.665,"v":1.23e7},{"s":"ON","f":2.691,"v":1.62e7},{"s":"ON","f":2.717,"v":1.32e7},{"s":"ON","f":2.742,"v":1.15e7},{"s":"ON","f":2.768,"v":1.32e7},{"s":"ON","f":2.794,"v":1.07e7},{"s":"ON","f":2.825,"v":9.5e6},{"s":"ON","f":2.851,"v":1.07e7},{"s":"ON","f":2.877,"v":1.15e7},{"s":"ON","f":2.897,"v":1.32e7},{"s":"ON","f":2.923,"v":1.07e7},{"s":"ON","f":2.949,"v":9.5e6},{"s":"ON","f":2.975,"v":1.07e7},{"s":"ON","f":3.0,"v":1.32e7}
   ]},
   "mark": {"type": "line", "clip": true},
   "encoding": {
     "x": {"field": "f", "type": "quantitative", "scale": {"domain": [0, 3], "nice": false, "zero": false}, "axis": {"title": "Frequency [Hz]", "values": [0, 0.5, 1, 1.5, 2, 2.5, 3], "format": ".1f", "grid": true}},
     "y": {"field": "v", "type": "quantitative", "scale": {"type": "log", "domain": [1e7, 5e9], "nice": false}, "axis": {"title": ["Hub yaw Mz spectrum", "[(Nm)²s]"], "titlePadding": 18, "grid": true, "values": [1e7,2e7,3e7,4e7,5e7,6e7,7e7,8e7,9e7,1e8,2e8,3e8,4e8,5e8,6e8,7e8,8e8,9e8,1e9,2e9,3e9,4e9,5e9], "labelExpr": "indexof([1e7,1e8,1e9,5e9], datum.value) >= 0 ? format(datum.value, '.1e') : ''"}},
     "color": {"field": "s", "type": "nominal", "scale": {"domain": ["OFF", "ON"], "range": ["#3a3a3a", "#ff0000"]}, "legend": {"legendX": 67, "legendY": -29, "labelExpr": "datum.value == 'OFF' ? [\"OFF 'cart3 2011 05-10\", \"02-42-36'\"] : [\"ON 'cart3 2011 05-10\", \"02-57-36'\"]", "encode": {"labels": {"update": {"lineHeight": {"value": 7.5}}}}}},
     "strokeWidth": {"field": "s", "type": "nominal", "scale": {"domain": ["OFF", "ON"], "range": [1, 1.8]}, "legend": null}
   }
  },
  {
   "width": 396, "height": 149,
   "title": {"text": "Pitch rate"},
   "data": {"values": [
{"s":"OFF","f":0,"v":71},{"s":"OFF","f":0.013,"v":145},{"s":"OFF","f":0.031,"v":224},{"s":"OFF","f":0.051,"v":263},{"s":"OFF","f":0.076,"v":263},{"s":"OFF","f":0.101,"v":282},{"s":"OFF","f":0.126,"v":302},{"s":"OFF","f":0.152,"v":302},{"s":"OFF","f":0.177,"v":224},{"s":"OFF","f":0.202,"v":178},{"s":"OFF","f":0.228,"v":145},{"s":"OFF","f":0.253,"v":117},{"s":"OFF","f":0.278,"v":100},{"s":"OFF","f":0.303,"v":89},{"s":"OFF","f":0.329,"v":71},{"s":"OFF","f":0.349,"v":50},{"s":"OFF","f":0.374,"v":56},{"s":"OFF","f":0.399,"v":66},{"s":"OFF","f":0.417,"v":52},{"s":"OFF","f":0.434,"v":40},{"s":"OFF","f":0.455,"v":34},{"s":"OFF","f":0.48,"v":32},{"s":"OFF","f":0.505,"v":30},{"s":"OFF","f":0.53,"v":23},{"s":"OFF","f":0.551,"v":16.6},{"s":"OFF","f":0.568,"v":14.5},{"s":"OFF","f":0.586,"v":22},{"s":"OFF","f":0.606,"v":32},{"s":"OFF","f":0.627,"v":22},{"s":"OFF","f":0.644,"v":12.6},{"s":"OFF","f":0.662,"v":6.9},{"s":"OFF","f":0.682,"v":5.2},{"s":"OFF","f":0.707,"v":6.0},{"s":"OFF","f":0.733,"v":5.2},{"s":"OFF","f":0.758,"v":4.6},{"s":"OFF","f":0.783,"v":3.4},{"s":"OFF","f":0.808,"v":2.95},{"s":"OFF","f":0.833,"v":2.75},{"s":"OFF","f":0.859,"v":5.2},{"s":"OFF","f":0.879,"v":12.6},{"s":"OFF","f":0.896,"v":11.7},{"s":"OFF","f":0.914,"v":6.0},{"s":"OFF","f":0.934,"v":2.95},{"s":"OFF","f":0.96,"v":1.66},{"s":"OFF","f":0.98,"v":0.98},{"s":"OFF","f":0.998,"v":1.32},{"s":"OFF","f":1.015,"v":1.17},{"s":"OFF","f":1.035,"v":1.41},{"s":"OFF","f":1.061,"v":1.07},{"s":"OFF","f":1.081,"v":1.23},{"s":"OFF","f":1.106,"v":0.87},{"s":"OFF","f":1.131,"v":0.93},{"s":"OFF","f":1.157,"v":1.17},{"s":"OFF","f":1.182,"v":1.07},{"s":"OFF","f":1.207,"v":1.23},{"s":"OFF","f":1.227,"v":2.95},{"s":"OFF","f":1.243,"v":3.4},{"s":"OFF","f":1.263,"v":2.5},{"s":"OFF","f":1.283,"v":1.41},{"s":"OFF","f":1.301,"v":0.79},{"s":"OFF","f":1.318,"v":0.55},{"s":"OFF","f":1.339,"v":0.6},{"s":"OFF","f":1.359,"v":0.93},{"s":"OFF","f":1.377,"v":0.69},{"s":"OFF","f":1.402,"v":0.98},{"s":"OFF","f":1.427,"v":1.17},{"s":"OFF","f":1.452,"v":1.07},{"s":"OFF","f":1.478,"v":1.32},{"s":"OFF","f":1.503,"v":1.41},{"s":"OFF","f":1.52,"v":1.17},{"s":"OFF","f":1.541,"v":1.66},{"s":"OFF","f":1.566,"v":0.79},{"s":"OFF","f":1.591,"v":1.23},{"s":"OFF","f":1.617,"v":1.9},{"s":"OFF","f":1.642,"v":2.75},{"s":"OFF","f":1.667,"v":3.7},{"s":"OFF","f":1.692,"v":3.1},{"s":"OFF","f":1.717,"v":2.5},{"s":"OFF","f":1.742,"v":2.2},{"s":"OFF","f":1.768,"v":2.5},{"s":"OFF","f":1.788,"v":2.95},{"s":"OFF","f":1.806,"v":2.2},{"s":"OFF","f":1.823,"v":3.9},{"s":"OFF","f":1.844,"v":12.6},{"s":"OFF","f":1.864,"v":9.3},{"s":"OFF","f":1.884,"v":6.0},{"s":"OFF","f":1.907,"v":4.9},{"s":"OFF","f":1.932,"v":4.6},{"s":"OFF","f":1.957,"v":3.9},{"s":"OFF","f":1.982,"v":4.9},{"s":"OFF","f":2.008,"v":2.95},{"s":"OFF","f":2.033,"v":1.9},{"s":"OFF","f":2.058,"v":1.55},{"s":"OFF","f":2.083,"v":1.23},{"s":"OFF","f":2.109,"v":0.98},{"s":"OFF","f":2.134,"v":0.87},{"s":"OFF","f":2.159,"v":0.74},{"s":"OFF","f":2.185,"v":0.6},{"s":"OFF","f":2.21,"v":0.49},{"s":"OFF","f":2.235,"v":0.45},{"s":"OFF","f":2.26,"v":0.39},{"s":"OFF","f":2.286,"v":0.41},{"s":"OFF","f":2.311,"v":0.36},{"s":"OFF","f":2.336,"v":0.31},{"s":"OFF","f":2.361,"v":0.29},{"s":"OFF","f":2.387,"v":0.25},{"s":"OFF","f":2.404,"v":0.29},{"s":"OFF","f":2.424,"v":0.25},{"s":"OFF","f":2.45,"v":0.22},{"s":"OFF","f":2.475,"v":0.17},{"s":"OFF","f":2.5,"v":0.14},{"s":"OFF","f":2.525,"v":0.105},{"s":"OFF","f":2.546,"v":0.13},{"s":"OFF","f":2.563,"v":0.19},{"s":"OFF","f":2.581,"v":0.22},{"s":"OFF","f":2.601,"v":0.16},{"s":"OFF","f":2.626,"v":0.19},{"s":"OFF","f":2.652,"v":0.25},{"s":"OFF","f":2.677,"v":0.39},{"s":"OFF","f":2.702,"v":0.6},{"s":"OFF","f":2.727,"v":0.45},{"s":"OFF","f":2.753,"v":0.41},{"s":"OFF","f":2.778,"v":0.41},{"s":"OFF","f":2.803,"v":0.36},{"s":"OFF","f":2.828,"v":0.19},{"s":"OFF","f":2.854,"v":0.09},{"s":"OFF","f":2.874,"v":0.098},{"s":"OFF","f":2.891,"v":0.13},{"s":"OFF","f":2.917,"v":0.16},{"s":"OFF","f":2.942,"v":0.22},{"s":"OFF","f":2.967,"v":0.29},{"s":"OFF","f":2.98,"v":0.34},{"s":"OFF","f":3.0,"v":0.35},
{"s":"ON","f":0,"v":52},{"s":"ON","f":0.013,"v":126},{"s":"ON","f":0.031,"v":195},{"s":"ON","f":0.051,"v":263},{"s":"ON","f":0.071,"v":224},{"s":"ON","f":0.089,"v":145},{"s":"ON","f":0.114,"v":302},{"s":"ON","f":0.139,"v":263},{"s":"ON","f":0.157,"v":282},{"s":"ON","f":0.177,"v":224},{"s":"ON","f":0.202,"v":195},{"s":"ON","f":0.228,"v":138},{"s":"ON","f":0.253,"v":126},{"s":"ON","f":0.278,"v":126},{"s":"ON","f":0.303,"v":117},{"s":"ON","f":0.329,"v":126},{"s":"ON","f":0.349,"v":145},{"s":"ON","f":0.367,"v":158},{"s":"ON","f":0.385,"v":100},{"s":"ON","f":0.404,"v":100},{"s":"ON","f":0.424,"v":145},{"s":"ON","f":0.442,"v":145},{"s":"ON","f":0.46,"v":263},{"s":"ON","f":0.48,"v":263},{"s":"ON","f":0.5,"v":347},{"s":"ON","f":0.518,"v":708},{"s":"ON","f":0.536,"v":1700},{"s":"ON","f":0.556,"v":5370},{"s":"ON","f":0.576,"v":9550},{"s":"ON","f":0.591,"v":17000},{"s":"ON","f":0.606,"v":38900},{"s":"ON","f":0.621,"v":35500},{"s":"ON","f":0.637,"v":17000},{"s":"ON","f":0.657,"v":7240},{"s":"ON","f":0.682,"v":3020},{"s":"ON","f":0.707,"v":1260},{"s":"ON","f":0.733,"v":617},{"s":"ON","f":0.758,"v":347},{"s":"ON","f":0.778,"v":224},{"s":"ON","f":0.796,"v":126},{"s":"ON","f":0.813,"v":195},{"s":"ON","f":0.833,"v":224},{"s":"ON","f":0.854,"v":81},{"s":"ON","f":0.874,"v":34},{"s":"ON","f":0.896,"v":46},{"s":"ON","f":0.922,"v":60},{"s":"ON","f":0.947,"v":71},{"s":"ON","f":0.965,"v":89},{"s":"ON","f":0.985,"v":81},{"s":"ON","f":1.01,"v":74},{"s":"ON","f":1.03,"v":93},{"s":"ON","f":1.048,"v":170},{"s":"ON","f":1.066,"v":347},{"s":"ON","f":1.086,"v":708},{"s":"ON","f":1.111,"v":1480},{"s":"ON","f":1.136,"v":2630},{"s":"ON","f":1.162,"v":5370},{"s":"ON","f":1.182,"v":8320},{"s":"ON","f":1.207,"v":9550},{"s":"ON","f":1.232,"v":10200},{"s":"ON","f":1.25,"v":9120},{"s":"ON","f":1.268,"v":4680},{"s":"ON","f":1.283,"v":2240},{"s":"ON","f":1.301,"v":2630},{"s":"ON","f":1.318,"v":1480},{"s":"ON","f":1.339,"v":708},{"s":"ON","f":1.359,"v":617},{"s":"ON","f":1.377,"v":468},{"s":"ON","f":1.402,"v":263},{"s":"ON","f":1.427,"v":195},{"s":"ON","f":1.452,"v":126},{"s":"ON","f":1.478,"v":89},{"s":"ON","f":1.503,"v":100},{"s":"ON","f":1.523,"v":126},{"s":"ON","f":1.541,"v":100},{"s":"ON","f":1.561,"v":81},{"s":"ON","f":1.579,"v":145},{"s":"ON","f":1.596,"v":74},{"s":"ON","f":1.617,"v":81},{"s":"ON","f":1.642,"v":66},{"s":"ON","f":1.667,"v":60},{"s":"ON","f":1.692,"v":46},{"s":"ON","f":1.712,"v":28},{"s":"ON","f":1.738,"v":11.7},{"s":"ON","f":1.758,"v":22},{"s":"ON","f":1.778,"v":40},{"s":"ON","f":1.798,"v":56},{"s":"ON","f":1.823,"v":50},{"s":"ON","f":1.844,"v":40},{"s":"ON","f":1.869,"v":26},{"s":"ON","f":1.894,"v":16.6},{"s":"ON","f":1.919,"v":15.8},{"s":"ON","f":1.95,"v":19},{"s":"ON","f":1.975,"v":21},{"s":"ON","f":1.995,"v":11.7},{"s":"ON","f":2.02,"v":10},{"s":"ON","f":2.046,"v":10.7},{"s":"ON","f":2.071,"v":7.9},{"s":"ON","f":2.096,"v":6.0},{"s":"ON","f":2.121,"v":4.9},{"s":"ON","f":2.146,"v":3.9},{"s":"ON","f":2.172,"v":2.5},{"s":"ON","f":2.197,"v":2.95},{"s":"ON","f":2.222,"v":3.7},{"s":"ON","f":2.248,"v":3.4},{"s":"ON","f":2.273,"v":3.9},{"s":"ON","f":2.298,"v":3.5},{"s":"ON","f":2.323,"v":3.4},{"s":"ON","f":2.348,"v":3.5},{"s":"ON","f":2.374,"v":3.9},{"s":"ON","f":2.394,"v":4.6},{"s":"ON","f":2.419,"v":2.95},{"s":"ON","f":2.445,"v":2.5},{"s":"ON","f":2.475,"v":2.2},{"s":"ON","f":2.5,"v":1.9},{"s":"ON","f":2.53,"v":1.9},{"s":"ON","f":2.556,"v":1.41},{"s":"ON","f":2.581,"v":1.07},{"s":"ON","f":2.606,"v":0.98},{"s":"ON","f":2.631,"v":1.17},{"s":"ON","f":2.657,"v":1.07},{"s":"ON","f":2.682,"v":1.32},{"s":"ON","f":2.707,"v":1.17},{"s":"ON","f":2.732,"v":1.23},{"s":"ON","f":2.753,"v":0.98},{"s":"ON","f":2.778,"v":1.23},{"s":"ON","f":2.803,"v":1.07},{"s":"ON","f":2.828,"v":1.32},{"s":"ON","f":2.854,"v":1.17},{"s":"ON","f":2.879,"v":1.07},{"s":"ON","f":2.904,"v":0.79},{"s":"ON","f":2.924,"v":0.65},{"s":"ON","f":2.942,"v":1.23},{"s":"ON","f":2.96,"v":1.66},{"s":"ON","f":2.98,"v":1.55},{"s":"ON","f":3.0,"v":1.48}
   ]},
   "mark": {"type": "line", "clip": true},
   "encoding": {
     "x": {"field": "f", "type": "quantitative", "scale": {"domain": [0, 3], "nice": false, "zero": false}, "axis": {"title": "Frequency [Hz]", "values": [0, 0.5, 1, 1.5, 2, 2.5, 3], "format": ".1f", "grid": true}},
     "y": {"field": "v", "type": "quantitative", "scale": {"type": "log", "domain": [0.1, 40000], "nice": false}, "axis": {"title": ["Pitch rate spectrum", "[rad²s]"], "titlePadding": 13, "grid": true, "values": [0.1,0.2,0.3,0.4,0.5,0.6,0.7,0.8,0.9,1,2,3,4,5,6,7,8,9,10,20,30,40,50,60,70,80,90,100,200,300,400,500,600,700,800,900,1000,2000,3000,4000,5000,6000,7000,8000,9000,10000,20000,30000,40000], "labelExpr": "indexof([0.1,1,10,100,1000,10000,40000], datum.value) >= 0 ? '' + datum.value : ''"}},
     "color": {"field": "s", "type": "nominal", "scale": {"domain": ["OFF", "ON"], "range": ["#3a3a3a", "#ff0000"]}, "legend": {"legendX": 72, "legendY": -29, "labelExpr": "datum.value == 'OFF' ? [\"OFF 'cart3 2011 05-10\", \"02-42-36'\"] : [\"ON 'cart3 2011 05-10\", \"02-57-36'\"]", "encode": {"labels": {"update": {"lineHeight": {"value": 7.5}}}}}},
     "strokeWidth": {"field": "s", "type": "nominal", "scale": {"domain": ["OFF", "ON"], "range": [1, 1.8]}, "legend": null}
   }
  }
 ], "spacing": 16, "resolve": {"scale": {"color": "independent", "strokeWidth": "independent"}, "legend": {"color": "independent", "strokeWidth": "independent"}}},
 {
  "width": 859, "height": 54,
  "layer": [
   {
    "data": {"values": [{"c":"a","r":"h","t":"Dataset"},{"c":"b","r":"h","t":"IPC & FATD"},{"c":"c","r":"h","t":"Mean wind speed (m/s)"},{"c":"d","r":"h","t":"Turbulence intensity (%)"}]},
    "mark": {"type": "text", "font": "Liberation Serif", "fontSize": 15, "fontWeight": "bold", "color": "#000000"},
    "encoding": {
      "x": {"field": "c", "type": "nominal", "scale": {"type": "band", "domain": ["a","b","c","d","e"], "range": [-66, 1099], "paddingInner": 0, "paddingOuter": 0}, "axis": null},
      "y": {"field": "r", "type": "nominal", "scale": {"type": "band", "domain": ["h","r1","r2"], "paddingInner": 0, "paddingOuter": 0}, "axis": null},
      "text": {"field": "t"}
    }
   },
   {
    "data": {"values": [{"c":"a","r":"r1","t":"CART3 2011 05-10 02-42-36"},{"c":"b","r":"r1","t":"OFF"},{"c":"c","r":"r1","t":"12.13"},{"c":"d","r":"r1","t":"10.82%"},{"c":"a","r":"r2","t":"CART3 2011 05-10 02-57-36"},{"c":"b","r":"r2","t":"ON"},{"c":"c","r":"r2","t":"12.15"},{"c":"d","r":"r2","t":"10.19%"}]},
    "mark": {"type": "text", "font": "Liberation Serif", "fontSize": 15.5, "color": "#000000"},
    "encoding": {
      "x": {"field": "c", "type": "nominal", "scale": {"type": "band", "domain": ["a","b","c","d","e"], "range": [-66, 1099], "paddingInner": 0, "paddingOuter": 0}, "axis": null},
      "y": {"field": "r", "type": "nominal", "scale": {"type": "band", "domain": ["h","r1","r2"], "paddingInner": 0, "paddingOuter": 0}, "axis": null},
      "text": {"field": "t"}
    }
   },
   {
    "data": {"values": [{"r":"h","c1":"a","c2":"e"}]},
    "mark": {"type": "rule", "color": "#555555", "strokeWidth": 1},
    "encoding": {
      "x": {"field": "c1", "type": "nominal", "bandPosition": 0, "scale": {"type": "band", "domain": ["a","b","c","d","e"], "range": [-66, 1099], "paddingInner": 0, "paddingOuter": 0}, "axis": null},
      "x2": {"field": "c2"},
      "y": {"field": "r", "type": "nominal", "bandPosition": 0, "scale": {"type": "band", "domain": ["h","r1","r2"], "paddingInner": 0, "paddingOuter": 0}, "axis": null}
    }
   },
   {
    "data": {"values": [{"r":"h","c1":"a","c2":"e"}]},
    "mark": {"type": "rule", "color": "#555555", "strokeWidth": 1},
    "encoding": {
      "x": {"field": "c1", "type": "nominal", "bandPosition": 0, "scale": {"type": "band", "domain": ["a","b","c","d","e"], "range": [-66, 1099], "paddingInner": 0, "paddingOuter": 0}, "axis": null},
      "x2": {"field": "c2"},
      "y": {"field": "r", "type": "nominal", "bandPosition": 1, "scale": {"type": "band", "domain": ["h","r1","r2"], "paddingInner": 0, "paddingOuter": 0}, "axis": null}
    }
   }
  ]
 }
]
}
